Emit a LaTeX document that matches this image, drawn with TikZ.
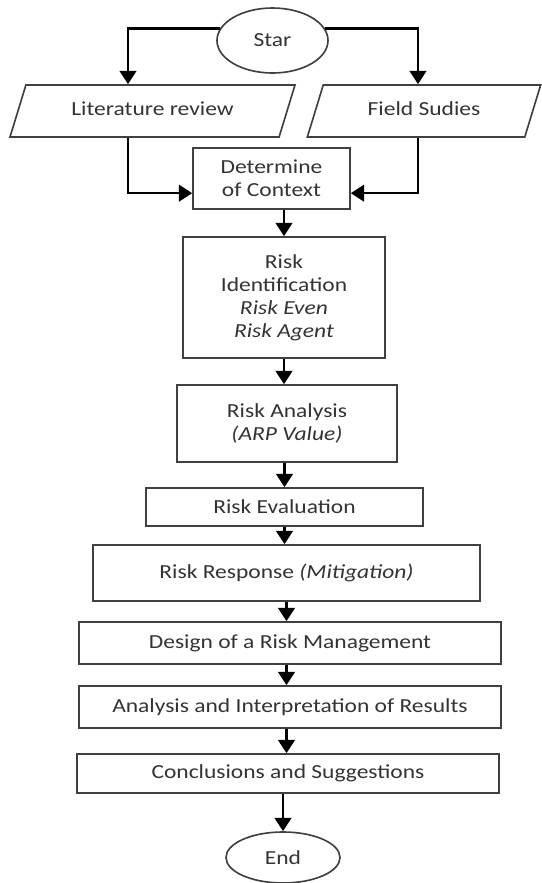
\documentclass[tikz,border=0pt]{standalone}
\usepackage{fontspec}
\setmainfont{Carlito}[FakeStretch=1.18]
\usetikzlibrary{shapes.geometric,arrows.meta}

\begin{document}
\begin{tikzpicture}[x=0.03cm,y=-0.03cm,
  every node/.style={font=\fontsize{17}{19.6}\selectfont, text=black!80},
  box/.style={draw=black!75, line width=1.4pt, align=center, inner sep=2pt},
  term/.style={box, ellipse},
  io/.style={box, trapezium, trapezium left angle=73, trapezium right angle=107,
    trapezium stretches body, text height=12pt, text depth=4pt, inner ysep=0.5cm},
  arr/.style={-{Triangle[length=0.4cm,width=0.5cm]}, line width=2pt}]
  \useasboundingbox (0,0) rectangle (542,883);

  \node[term, minimum width=3.33cm, minimum height=1.95cm] (star) at (272.5,40.5) {Star};
  \node[io, minimum width=8.55cm] (lit) at (152.5,111) {Literature review};
  \node[io, minimum width=7.0cm] (field) at (424,111) {Field Sudies};

  \node[box, minimum width=4.71cm, minimum height=1.83cm] (ctx) at (271.5,178.5) {Determine\\of Context};
  \node[box, minimum width=6.06cm, minimum height=3.63cm] (ident) at (284,297.5)
    {Risk\\Identification\\\textit{Risk Even}\\\textit{Risk Agent}};
  \node[box, minimum width=6.6cm, minimum height=2.31cm] (anal) at (287,423.5)
    {Risk Analysis\\\textit{(ARP Value)}};
  \node[box, minimum width=8.31cm, minimum height=1.14cm] (eval) at (284.5,507) {Risk Evaluation};
  \node[box, minimum width=11.61cm, minimum height=1.68cm] (resp) at (286.5,573)
    {Risk Response \textit{(Mitigation)}};
  \node[box, minimum width=12.66cm, minimum height=1.26cm] (design) at (290,643) {Design of a Risk Management};
  \node[box, minimum width=12.66cm, minimum height=1.26cm] (interp) at (290,707) {Analysis and Interpretation of Results};
  \node[box, minimum width=12.66cm, minimum height=1.17cm] (concl) at (288,773.5) {Conclusions and Suggestions};
  \node[term, minimum width=3.42cm, minimum height=1.53cm] (end) at (283,857.5) {End};

  \draw[arr] (star.167) -| ([xshift=-0.735cm]lit.north);
  \draw[arr] (star.13) -| ([xshift=-0.18cm]field.north);
  \draw[arr] ([xshift=-0.735cm]lit.south) |- ([yshift=-0.44cm]ctx.west);
  \draw[arr] ([xshift=-0.18cm]field.south) |- ([yshift=-0.44cm]ctx.east);

  \draw[arr] (ident.north |- ctx.south) -- (ident.north);
  \draw[arr] (ident.south) -- (ident.south |- anal.north);
  \draw[arr] (eval.north |- anal.south) -- (eval.north);
  \draw[arr] (eval.south) -- (eval.south |- resp.north);
  \draw[arr] (resp.south) -- (resp.south |- design.north);
  \draw[arr] (resp.south |- design.south) -- (resp.south |- interp.north);
  \draw[arr] (resp.south |- interp.south) -- (resp.south |- concl.north);
  \draw[arr] (end.north |- concl.south) -- (end.north);
\end{tikzpicture}
\end{document}
